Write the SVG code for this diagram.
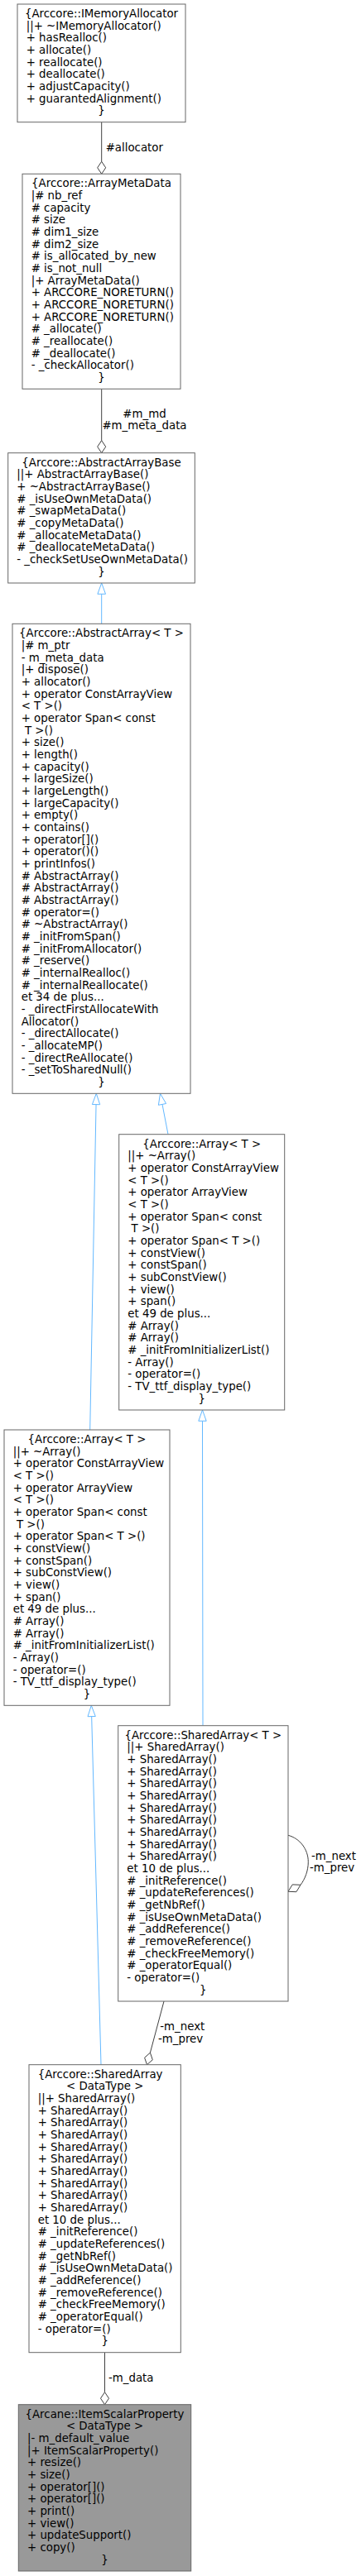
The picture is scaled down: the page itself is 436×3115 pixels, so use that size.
<svg xmlns="http://www.w3.org/2000/svg" width="436" height="3115" viewBox="0 0 436 3115">
<style>
text{font-family:"DejaVu Sans",sans-serif;font-size:13.33px;fill:#000}
.c{text-anchor:middle}
.box{fill:#fff;stroke:#666;stroke-width:1}
.root{fill:#999;stroke:#666;stroke-width:1}
.agg{fill:none;stroke:#404040;stroke-width:1}
.aggh{fill:#fff;stroke:#404040;stroke-width:1}
.inh{fill:none;stroke:#63B8FF;stroke-width:1}
.inhh{fill:#fff;stroke:#63B8FF;stroke-width:1}
</style>
<rect width="436" height="3115" fill="#fff"/>
<g id="edges">
<path class="agg" d="M122.7,147.7V195.3"/>
<polygon class="aggh" points="122.7,210.3 117.7,202.8 122.7,195.3 127.7,202.8"/>
<text x="127.7" y="182.5">#allocator</text>
<path class="agg" d="M122.7,470.3V532.7"/>
<polygon class="aggh" points="122.7,547.7 117.7,540.2 122.7,532.7 127.7,540.2"/>
<text class="c" x="174.5" y="504.5">#m_md</text>
<text class="c" x="174.5" y="519.2">#m_meta_data</text>
<path class="inh" d="M122.7,754.3V718.3"/>
<polygon class="inhh" points="122.7,705 117.9,718.3 127.5,718.3"/>
<path class="inh" d="M203,1371.7L196,1335.4"/>
<polygon class="inhh" points="193.5,1322.3 200.6,1334.5 191.4,1336.3"/>
<path class="inh" d="M108.7,1729L116.05,1335.6"/>
<polygon class="inhh" points="116.3,1322.3 120.7,1335.7 111.4,1335.5"/>
<path class="inh" d="M245,2086.7L244.5,1718.3"/>
<polygon class="inhh" points="244.5,1705 239.8,1718.3 249.2,1718.3"/>
<path class="inh" d="M122,2496.7L110.66,2075.6"/>
<polygon class="inhh" points="110.3,2062.3 115.3,2075.5 106,2075.7"/>
<path class="agg" d="M348,2219.3C362,2223 372.3,2236 372.3,2251.5C372.3,2262 368.5,2272 363,2279.3"/>
<polygon class="aggh" points="348,2287.3 357.9,2287.7 363,2279.3 353.2,2278.9"/>
<text x="376" y="2248.7">-m_next</text>
<text x="374" y="2263.3">-m_prev</text>
<path class="agg" d="M198,2420L181.4,2482.2"/>
<polygon class="aggh" points="177.5,2496.7 184.3,2490.8 181.4,2482.2 174.6,2488.2"/>
<text x="193.3" y="2455.2">-m_next</text>
<text x="191" y="2469.8">-m_prev</text>
<path class="agg" d="M126.5,2844.7V2892.7"/>
<polygon class="aggh" points="126.5,2907.7 121.5,2900.2 126.5,2892.7 131.5,2900.2"/>
<text x="131" y="2880">-m_data</text>
</g>
<g id="n_IMemoryAllocator">
<rect class="box" x="21" y="5" width="203" height="142.7"/>
<text class="c" x="122.5" y="21">{Arccore::IMemoryAllocator</text>
<text x="31.7" y="35.67">||+ ~IMemoryAllocator()</text>
<text x="31.7" y="50.33">+ hasRealloc()</text>
<text x="31.7" y="65">+ allocate()</text>
<text x="31.7" y="79.67">+ reallocate()</text>
<text x="31.7" y="94.33">+ deallocate()</text>
<text x="31.7" y="109">+ adjustCapacity()</text>
<text x="31.7" y="123.67">+ guarantedAlignment()</text>
<text class="c" x="122.5" y="138.33">}</text>
</g>
<g id="n_ArrayMetaData">
<rect class="box" x="27" y="210.3" width="191" height="260"/>
<text class="c" x="122.5" y="226.3">{Arccore::ArrayMetaData</text>
<text x="37.7" y="241">|# nb_ref</text>
<text x="37.7" y="255.6"># capacity</text>
<text x="37.7" y="270.3"># size</text>
<text x="37.7" y="285"># dim1_size</text>
<text x="37.7" y="299.6"># dim2_size</text>
<text x="37.7" y="314.3"># is_allocated_by_new</text>
<text x="37.7" y="329"># is_not_null</text>
<text x="37.7" y="343.6">|+ ArrayMetaData()</text>
<text x="37.7" y="358.3">+ ARCCORE_NORETURN()</text>
<text x="37.7" y="373">+ ARCCORE_NORETURN()</text>
<text x="37.7" y="387.6">+ ARCCORE_NORETURN()</text>
<text x="37.7" y="402.3"># _allocate()</text>
<text x="37.7" y="417"># _reallocate()</text>
<text x="37.7" y="431.6"># _deallocate()</text>
<text x="37.7" y="446.3">- _checkAllocator()</text>
<text class="c" x="122.5" y="461">}</text>
</g>
<g id="n_AbstractArrayBase">
<rect class="box" x="9.7" y="547.7" width="225.6" height="157.3"/>
<text class="c" x="122.5" y="563.7">{Arccore::AbstractArrayBase</text>
<text x="20.3" y="578.4">||+ AbstractArrayBase()</text>
<text x="20.3" y="593">+ ~AbstractArrayBase()</text>
<text x="20.3" y="607.7"># _isUseOwnMetaData()</text>
<text x="20.3" y="622.4"># _swapMetaData()</text>
<text x="20.3" y="637"># _copyMetaData()</text>
<text x="20.3" y="651.7"># _allocateMetaData()</text>
<text x="20.3" y="666.4"># _deallocateMetaData()</text>
<text x="20.3" y="681">- _checkSetUseOwnMetaData()</text>
<text class="c" x="122.5" y="695.7">}</text>
</g>
<g id="n_AbstractArray">
<rect class="box" x="15" y="754.3" width="215" height="568"/>
<text class="c" x="122.5" y="770.3">{Arccore::AbstractArray&lt; T &gt;</text>
<text x="25.7" y="785">|# m_ptr</text>
<text x="25.7" y="799.6">- m_meta_data</text>
<text x="25.7" y="814.3">|+ dispose()</text>
<text x="25.7" y="829">+ allocator()</text>
<text x="25.7" y="843.6">+ operator ConstArrayView</text>
<text x="25.7" y="858.3">&lt; T &gt;()</text>
<text x="25.7" y="873">+ operator Span&lt; const</text>
<text x="25.7" y="887.6" xml:space="preserve"> T &gt;()</text>
<text x="25.7" y="902.3">+ size()</text>
<text x="25.7" y="917">+ length()</text>
<text x="25.7" y="931.6">+ capacity()</text>
<text x="25.7" y="946.3">+ largeSize()</text>
<text x="25.7" y="961">+ largeLength()</text>
<text x="25.7" y="975.6">+ largeCapacity()</text>
<text x="25.7" y="990.3">+ empty()</text>
<text x="25.7" y="1005">+ contains()</text>
<text x="25.7" y="1019.6">+ operator[]()</text>
<text x="25.7" y="1034.3">+ operator()()</text>
<text x="25.7" y="1049">+ printInfos()</text>
<text x="25.7" y="1063.6"># AbstractArray()</text>
<text x="25.7" y="1078.3"># AbstractArray()</text>
<text x="25.7" y="1093"># AbstractArray()</text>
<text x="25.7" y="1107.6"># operator=()</text>
<text x="25.7" y="1122.3"># ~AbstractArray()</text>
<text x="25.7" y="1137"># _initFromSpan()</text>
<text x="25.7" y="1151.6"># _initFromAllocator()</text>
<text x="25.7" y="1166.3"># _reserve()</text>
<text x="25.7" y="1181"># _internalRealloc()</text>
<text x="25.7" y="1195.6"># _internalReallocate()</text>
<text x="25.7" y="1210.3">et 34 de plus...</text>
<text x="25.7" y="1225">- _directFirstAllocateWith</text>
<text x="25.7" y="1239.6">Allocator()</text>
<text x="25.7" y="1254.3">- _directAllocate()</text>
<text x="25.7" y="1269">- _allocateMP()</text>
<text x="25.7" y="1283.6">- _directReAllocate()</text>
<text x="25.7" y="1298.3">- _setToSharedNull()</text>
<text class="c" x="122.5" y="1313">}</text>
</g>
<g id="n_Array_right">
<rect class="box" x="143.7" y="1371.7" width="200" height="333.3"/>
<text class="c" x="243.7" y="1387.7">{Arccore::Array&lt; T &gt;</text>
<text x="154.3" y="1402.4">||+ ~Array()</text>
<text x="154.3" y="1417">+ operator ConstArrayView</text>
<text x="154.3" y="1431.7">&lt; T &gt;()</text>
<text x="154.3" y="1446.4">+ operator ArrayView</text>
<text x="154.3" y="1461">&lt; T &gt;()</text>
<text x="154.3" y="1475.7">+ operator Span&lt; const</text>
<text x="154.3" y="1490.4" xml:space="preserve"> T &gt;()</text>
<text x="154.3" y="1505">+ operator Span&lt; T &gt;()</text>
<text x="154.3" y="1519.7">+ constView()</text>
<text x="154.3" y="1534.4">+ constSpan()</text>
<text x="154.3" y="1549">+ subConstView()</text>
<text x="154.3" y="1563.7">+ view()</text>
<text x="154.3" y="1578.4">+ span()</text>
<text x="154.3" y="1593">et 49 de plus...</text>
<text x="154.3" y="1607.7"># Array()</text>
<text x="154.3" y="1622.4"># Array()</text>
<text x="154.3" y="1637"># _initFromInitializerList()</text>
<text x="154.3" y="1651.7">- Array()</text>
<text x="154.3" y="1666.4">- operator=()</text>
<text x="154.3" y="1681">- TV_ttf_display_type()</text>
<text class="c" x="243.7" y="1695.7">}</text>
</g>
<g id="n_Array_left">
<rect class="box" x="5" y="1729" width="200" height="333.3"/>
<text class="c" x="105" y="1745">{Arccore::Array&lt; T &gt;</text>
<text x="15.7" y="1759.7">||+ ~Array()</text>
<text x="15.7" y="1774.3">+ operator ConstArrayView</text>
<text x="15.7" y="1789">&lt; T &gt;()</text>
<text x="15.7" y="1803.7">+ operator ArrayView</text>
<text x="15.7" y="1818.3">&lt; T &gt;()</text>
<text x="15.7" y="1833">+ operator Span&lt; const</text>
<text x="15.7" y="1847.7" xml:space="preserve"> T &gt;()</text>
<text x="15.7" y="1862.3">+ operator Span&lt; T &gt;()</text>
<text x="15.7" y="1877">+ constView()</text>
<text x="15.7" y="1891.7">+ constSpan()</text>
<text x="15.7" y="1906.3">+ subConstView()</text>
<text x="15.7" y="1921">+ view()</text>
<text x="15.7" y="1935.7">+ span()</text>
<text x="15.7" y="1950.3">et 49 de plus...</text>
<text x="15.7" y="1965"># Array()</text>
<text x="15.7" y="1979.7"># Array()</text>
<text x="15.7" y="1994.3"># _initFromInitializerList()</text>
<text x="15.7" y="2009">- Array()</text>
<text x="15.7" y="2023.7">- operator=()</text>
<text x="15.7" y="2038.3">- TV_ttf_display_type()</text>
<text class="c" x="105" y="2053">}</text>
</g>
<g id="n_SharedArray_T">
<rect class="box" x="142.7" y="2086.7" width="205.3" height="333.3"/>
<text class="c" x="245.3" y="2102.7">{Arccore::SharedArray&lt; T &gt;</text>
<text x="153.3" y="2117.4">||+ SharedArray()</text>
<text x="153.3" y="2132">+ SharedArray()</text>
<text x="153.3" y="2146.7">+ SharedArray()</text>
<text x="153.3" y="2161.4">+ SharedArray()</text>
<text x="153.3" y="2176">+ SharedArray()</text>
<text x="153.3" y="2190.7">+ SharedArray()</text>
<text x="153.3" y="2205.4">+ SharedArray()</text>
<text x="153.3" y="2220">+ SharedArray()</text>
<text x="153.3" y="2234.7">+ SharedArray()</text>
<text x="153.3" y="2249.4">+ SharedArray()</text>
<text x="153.3" y="2264">et 10 de plus...</text>
<text x="153.3" y="2278.7"># _initReference()</text>
<text x="153.3" y="2293.4"># _updateReferences()</text>
<text x="153.3" y="2308"># _getNbRef()</text>
<text x="153.3" y="2322.7"># _isUseOwnMetaData()</text>
<text x="153.3" y="2337.4"># _addReference()</text>
<text x="153.3" y="2352"># _removeReference()</text>
<text x="153.3" y="2366.7"># _checkFreeMemory()</text>
<text x="153.3" y="2381.4"># _operatorEqual()</text>
<text x="153.3" y="2396">- operator=()</text>
<text class="c" x="245.3" y="2410.7">}</text>
</g>
<g id="n_SharedArray_DataType">
<rect class="box" x="35" y="2496.7" width="183.3" height="348"/>
<text x="45.7" y="2512.7">{Arccore::SharedArray</text>
<text class="c" x="126.7" y="2527.4">&lt; DataType &gt;</text>
<text x="45.7" y="2542">||+ SharedArray()</text>
<text x="45.7" y="2556.7">+ SharedArray()</text>
<text x="45.7" y="2571.4">+ SharedArray()</text>
<text x="45.7" y="2586">+ SharedArray()</text>
<text x="45.7" y="2600.7">+ SharedArray()</text>
<text x="45.7" y="2615.4">+ SharedArray()</text>
<text x="45.7" y="2630">+ SharedArray()</text>
<text x="45.7" y="2644.7">+ SharedArray()</text>
<text x="45.7" y="2659.4">+ SharedArray()</text>
<text x="45.7" y="2674">+ SharedArray()</text>
<text x="45.7" y="2688.7">et 10 de plus...</text>
<text x="45.7" y="2703.4"># _initReference()</text>
<text x="45.7" y="2718"># _updateReferences()</text>
<text x="45.7" y="2732.7"># _getNbRef()</text>
<text x="45.7" y="2747.4"># _isUseOwnMetaData()</text>
<text x="45.7" y="2762"># _addReference()</text>
<text x="45.7" y="2776.7"># _removeReference()</text>
<text x="45.7" y="2791.4"># _checkFreeMemory()</text>
<text x="45.7" y="2806"># _operatorEqual()</text>
<text x="45.7" y="2820.7">- operator=()</text>
<text class="c" x="126.7" y="2835.4">}</text>
</g>
<g id="n_ItemScalarProperty">
<rect class="root" x="22.3" y="2907.7" width="208.4" height="201.3"/>
<text class="c" x="126.5" y="2923.7">{Arcane::ItemScalarProperty</text>
<text class="c" x="126.5" y="2938.4">&lt; DataType &gt;</text>
<text x="33" y="2953">|- m_default_value</text>
<text x="33" y="2967.7">|+ ItemScalarProperty()</text>
<text x="33" y="2982.4">+ resize()</text>
<text x="33" y="2997">+ size()</text>
<text x="33" y="3011.7">+ operator[]()</text>
<text x="33" y="3026.4">+ operator[]()</text>
<text x="33" y="3041">+ print()</text>
<text x="33" y="3055.7">+ view()</text>
<text x="33" y="3070.4">+ updateSupport()</text>
<text x="33" y="3085">+ copy()</text>
<text class="c" x="126.5" y="3099.7">}</text>
</g>
</svg>
